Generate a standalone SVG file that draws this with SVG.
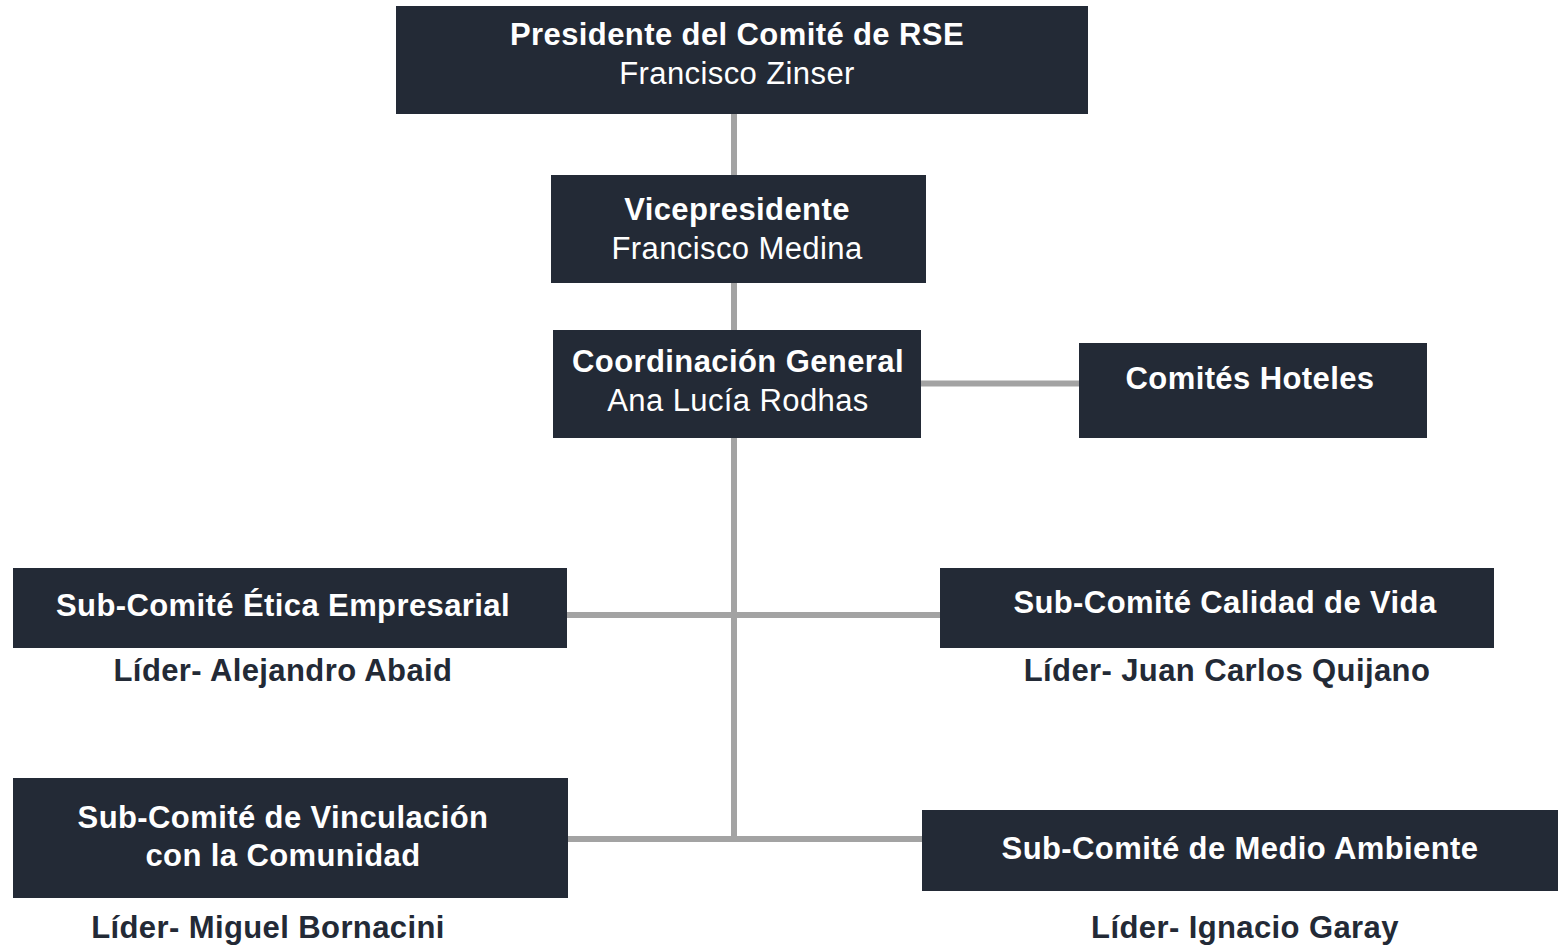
<svg xmlns="http://www.w3.org/2000/svg" width="1558" height="945" viewBox="0 0 1558 945">
<style>
.box{fill:#232a36}
.t{font-family:"Liberation Sans",Arial,Helvetica,sans-serif;font-size:31px;fill:#ffffff;text-anchor:middle;letter-spacing:0.4px}
.b{font-weight:bold}
.l{font-family:"Liberation Sans",Arial,Helvetica,sans-serif;font-size:31px;font-weight:bold;fill:#232a36;text-anchor:middle;letter-spacing:0.4px}
.c{stroke:#a3a3a3;stroke-width:6;fill:none}
</style>
<rect width="1558" height="945" fill="#ffffff"/>
<g id="connectors">
<line class="c" x1="734" y1="114" x2="734" y2="175"/>
<line class="c" x1="734" y1="283" x2="734" y2="330"/>
<line class="c" x1="734" y1="438" x2="734" y2="839"/>
<line class="c" x1="921" y1="383.5" x2="1079" y2="383.5"/>
<line class="c" x1="567" y1="615" x2="940" y2="615"/>
<line class="c" x1="567" y1="839" x2="922" y2="839"/>
</g>
<g id="presidente">
<rect class="box" x="396" y="6" width="692" height="108"/>
<text class="t b" x="737" y="45">Presidente del Comité de RSE</text>
<text class="t" x="737" y="84">Francisco Zinser</text>
</g>
<g id="vicepresidente">
<rect class="box" x="551" y="175" width="375" height="108"/>
<text class="t b" x="737" y="220">Vicepresidente</text>
<text class="t" x="737" y="259">Francisco Medina</text>
</g>
<g id="coordinacion">
<rect class="box" x="553" y="330" width="368" height="108"/>
<text class="t b" x="738" y="372">Coordinación General</text>
<text class="t" x="738" y="411">Ana Lucía Rodhas</text>
</g>
<g id="hoteles">
<rect class="box" x="1079" y="343" width="348" height="95"/>
<text class="t b" x="1250" y="389">Comités Hoteles</text>
</g>
<g id="etica">
<rect class="box" x="13" y="568" width="554" height="80"/>
<text class="t b" x="283" y="616">Sub-Comité Ética Empresarial</text>
<text class="l" x="283" y="681">Líder- Alejandro Abaid</text>
</g>
<g id="calidad">
<rect class="box" x="940" y="568" width="554" height="80"/>
<text class="t b" x="1225" y="613">Sub-Comité Calidad de Vida</text>
<text class="l" x="1227" y="681">Líder- Juan Carlos Quijano</text>
</g>
<g id="vinculacion">
<rect class="box" x="13" y="778" width="555" height="120"/>
<text class="t b" x="283" y="828">Sub-Comité de Vinculación</text>
<text class="t b" x="283" y="866">con la Comunidad</text>
<text class="l" x="268" y="938">Líder- Miguel Bornacini</text>
</g>
<g id="medio">
<rect class="box" x="922" y="810" width="636" height="81"/>
<text class="t b" x="1240" y="859">Sub-Comité de Medio Ambiente</text>
<text class="l" x="1245" y="938">Líder- Ignacio Garay</text>
</g>
</svg>
